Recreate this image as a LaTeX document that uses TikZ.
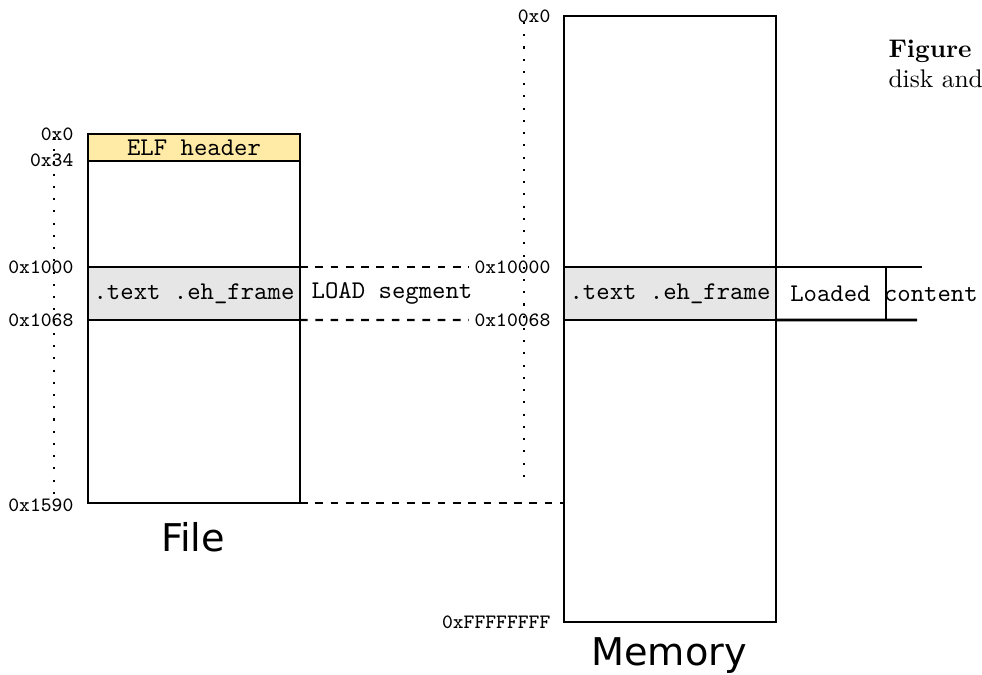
\documentclass[tikz,border=0pt]{standalone}
\usepackage{fontspec}
\newfontfamily\dejavu{DejaVu Sans}
\definecolor{elfyellow}{RGB}{255,235,165}
\definecolor{bandgray}{RGB}{230,230,230}
\def\u{0.3922pt}
\begin{document}
\begin{tikzpicture}[x=0.3922pt,y=-0.3922pt,
  box/.style={draw, line width=1.05pt, inner sep=0pt, outer sep=0pt},
  hexlabel/.style={font=\ttfamily\footnotesize, anchor=east, inner sep=2pt},
  conn/.style={dashed, line width=0.8pt},
  dots/.style={loosely dotted, line width=0.8pt},
  ttext/.style={font=\ttfamily},
  title/.style={font=\dejavu\fontsize{15}{18}\selectfont}]
\useasboundingbox (0,0) rectangle (982,675);

% dotted address axes
\draw[dots] (54,137) -- (54,500);
\draw[dots] (524,22) -- (524,484);

% File
\node[box, minimum width=212*\u, minimum height=369*\u] (file) at (194,318.5) {};
\node[box, fill=elfyellow, minimum width=212*\u, minimum height=27*\u, anchor=north, ttext] (elf) at (file.north) {\raisebox{-1pt}{ELF header}};
\node[box, fill=bandgray, minimum width=212*\u, minimum height=53*\u, ttext] (ftext) at (194,293.5) {.text .eh\_frame};

% Memory
\node[box, minimum width=212*\u, minimum height=606*\u] (mem) at (670,319) {};
\node[box, fill=bandgray, minimum width=212*\u, minimum height=53*\u, ttext] (mtext) at (670,293.5) {.text .eh\_frame};

% file labels
\node[hexlabel] (f0) at (79,134) {0x0};
\node[hexlabel] (f34) at (79,160) {0x34};
\node[hexlabel] (f1000) at (79,267) {0x1000};
\node[hexlabel] (f1068) at (79,320) {0x1068};
\node[hexlabel] (f1590) at (79,505) {0x1590};

% memory labels
\node[hexlabel] (m0) at (556,16) {0x0};
\node[hexlabel] (m10000) at (556,267) {0x10000};
\node[hexlabel] (m10068) at (556,320) {0x10068};
\node[hexlabel] (mff) at (556,622) {0xFFFFFFFF};

% connectors
\draw[conn] (ftext.north east) -- (m10000.west);
\draw[conn] (ftext.south east) -- (m10068.west);
\draw[conn] (file.south east) -- (file.south east -| mem.west);
\node[ttext] (load) at (392,293) {LOAD segment};

% loaded content
\coordinate (r1) at (922,267);
\coordinate (r2) at (917,320);
\coordinate (t1) at (886,267);
\coordinate (t2) at (886,320);
\draw[line width=1.05pt] (mtext.north east) -- (r1);
\draw[line width=1.05pt] (mtext.south east) -- (r2);
\draw[line width=0.4pt] (t1) -- (t2);
\node[ttext] (loaded) at (884,294) {Loaded content};

% titles
\node[title] (filet) at (193,537) {File};
\node[title] (memt) at (669,656) {Memory};

% caption fragment
\node[anchor=base west, font=\bfseries, inner sep=0pt] (fig) at (888,58) {Figure};
\node[anchor=base west, inner sep=0pt] (disk) at (888,88) {disk and};
\end{tikzpicture}
\end{document}
